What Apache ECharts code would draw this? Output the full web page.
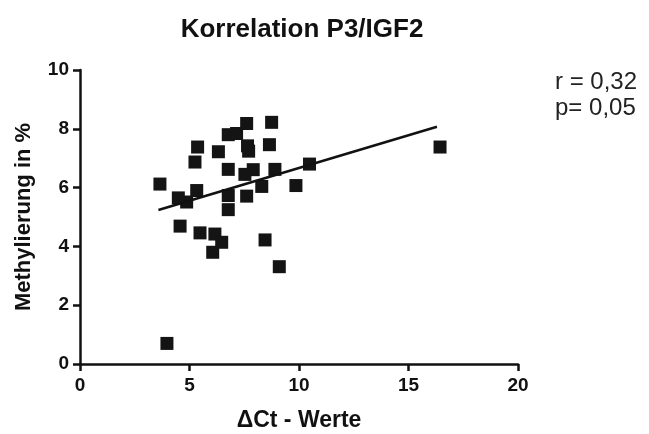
<!DOCTYPE html>
<html>
<head>
<meta charset="utf-8">
<script src="https://cdn.jsdelivr.net/npm/echarts@6/dist/echarts.min.js"></script>
<style>
html,body{margin:0;padding:0;background:#fff;}
#chart{width:649px;height:434px;}
</style>
</head>
<body>
<div id="chart"></div>
<script>
// Data
var deltaCt = [3.65, 3.97, 4.49, 4.87, 5.33, 5.37, 5.25, 6.32, 6.77, 7.15, 7.61, 8.75, 7.65, 7.70, 8.65, 6.77, 7.91, 7.53, 8.90, 8.30, 9.86, 10.48, 6.77, 7.61, 6.77, 4.57, 5.48, 6.16, 6.47, 6.06, 8.45, 9.10, 16.44];
var methylierung = [6.12, 0.70, 5.65, 5.51, 5.90, 7.38, 6.87, 7.22, 7.80, 7.84, 8.18, 8.22, 7.42, 7.24, 7.46, 6.62, 6.61, 6.45, 6.62, 6.04, 6.07, 6.80, 5.73, 5.71, 5.25, 4.69, 4.46, 4.42, 4.14, 3.80, 4.22, 3.31, 7.38];
var fitX = [3.58, 16.3];
var fitY = [5.24, 8.07];
var xTicks = [0, 5, 10, 15, 20];
var yTicks = [0, 2, 4, 6, 8, 10];
var titleText = 'Korrelation P3/IGF2';
var xName = '\u0394Ct - Werte';
var yName = 'Methylierung in %';
var statsText = ['r = 0,32', 'p= 0,05'];

var points = deltaCt.map(function (x, i) { return [x, methylierung[i]]; });
var fitLine = fitX.map(function (x, i) { return [x, fitY[i]]; });

var chart = echarts.init(document.getElementById('chart'));
var font = 'Liberation Sans, Arial, sans-serif';
chart.setOption({
  animation: false,
  backgroundColor: '#ffffff',
  title: {
    text: titleText,
    left: 297, top: 12, textAlign: 'center',
    textStyle: { fontFamily: font, fontWeight: 'bold', fontSize: 26, color: '#111' }
  },
  grid: { left: 80, right: 131, top: 70, bottom: 70, containLabel: false, outerBoundsMode: 'none' },
  xAxis: {
    type: 'value', min: xTicks[0], max: xTicks[xTicks.length - 1], interval: 5,
    name: xName, nameLocation: 'middle', nameGap: 45,
    nameTextStyle: { fontFamily: font, fontWeight: 'bold', fontSize: 23, color: '#111' },
    axisLine: { onZero: false, lineStyle: { color: '#111', width: 2.5 } },
    axisTick: { show: true, length: 7, lineStyle: { color: '#111', width: 2.5 } },
    axisLabel: { margin: 12, fontFamily: font, fontWeight: 'bold', fontSize: 19, color: '#111' },
    splitLine: { show: false }
  },
  yAxis: {
    type: 'value', min: yTicks[0], max: yTicks[yTicks.length - 1], interval: 2,
    name: yName, nameLocation: 'middle', nameGap: 45, nameRotate: 90,
    nameTextStyle: { fontFamily: font, fontWeight: 'bold', fontSize: 22, color: '#111' },
    axisLine: { onZero: false, lineStyle: { color: '#111', width: 2.5 } },
    axisTick: { show: true, length: 7, lineStyle: { color: '#111', width: 2.5 } },
    axisLabel: { margin: 11, fontFamily: font, fontWeight: 'bold', fontSize: 19, color: '#111' },
    splitLine: { show: false }
  },
  graphic: [
    { type: 'text', left: 555, top: 70, style: { text: statsText[0], font: '24px ' + font, fill: '#222' } },
    { type: 'text', left: 555, top: 96, style: { text: statsText[1], font: '24px ' + font, fill: '#222' } }
  ],
  series: [
    {
      type: 'scatter', data: points, symbol: 'rect', symbolSize: 13,
      itemStyle: { color: '#141414', opacity: 1 }, z: 3
    },
    {
      type: 'line', data: fitLine, showSymbol: false, symbol: 'none',
      lineStyle: { color: '#111', width: 2.5 }, z: 4
    }
  ]
});
</script>
</body>
</html>
